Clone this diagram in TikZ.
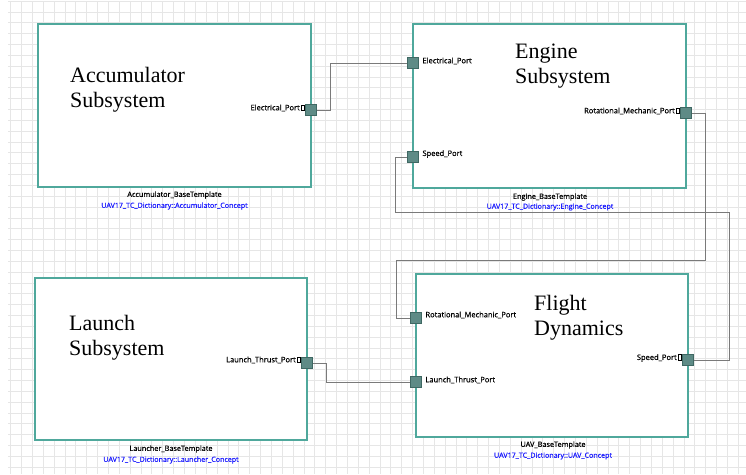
\documentclass[tikz,border=0pt]{standalone}
\usepackage{fontspec}
\setmainfont{Liberation Serif}
\newfontfamily\uifont{Open Sans}[FakeBold=0.6]
\usetikzlibrary{positioning}
\definecolor{boxline}{HTML}{4FA89C}
\definecolor{portfill}{HTML}{5E8B86}
\definecolor{portline}{HTML}{3F6863}
\definecolor{wirec}{HTML}{7A7A7A}
\definecolor{gridc}{HTML}{E6E6E6}
\definecolor{dictblue}{HTML}{1E1EFF}
\tikzset{
  block/.style={draw=boxline, line width=1.8pt, fill=white, inner sep=0pt},
  port/.style={draw=portline, fill=portfill, line width=0.6pt, minimum size=11pt, inner sep=0pt},
  wire/.style={draw=wirec, line width=0.9pt},
  title/.style={font=\fontsize{22}{25}\selectfont, align=left, inner sep=0pt, anchor=base west},
  plabel/.style={font=\uifont\fontsize{7.5}{8}\selectfont, inner sep=0.5pt, text=black},
  tmpl/.style={font=\uifont\fontsize{7.3}{8}\selectfont, inner sep=0pt, text=black},
  dict/.style={font=\uifont\fontsize{7.1}{8}\selectfont, inner sep=0pt, text=dictblue},
}
\newcommand{\gbox}{\,{\setlength{\fboxsep}{0pt}\setlength{\fboxrule}{0.5pt}\fbox{\rule{0pt}{5pt}\hspace{2.5pt}}}}
\begin{document}
\begin{tikzpicture}[x=1pt, y=-1pt]
\useasboundingbox (0,0) rectangle (746,474);
\fill[white] (0,0) rectangle (746,474);
% grid
\foreach \i in {0,...,68} {
  \draw[gridc, line width=0.6pt] ({10.6+10.86*\i},1) -- ({10.6+10.86*\i},474);
}
\foreach \j in {0,...,43} {
  \draw[gridc, line width=0.6pt] (8,{1+10.84*\j}) -- (746,{1+10.84*\j});
}

% blocks
\node[block, minimum width=273pt, minimum height=163pt] (acc) at (174.5,105.5) {};
\node[block, minimum width=273pt, minimum height=164pt] (eng) at (549.5,106) {};
\node[block, minimum width=272pt, minimum height=162pt] (lau) at (171,359) {};
\node[block, minimum width=272pt, minimum height=163pt] (fly) at (552,355.5) {};

% titles (base anchor = baseline of last line)
\node[title] (accT) at (70,107) {Accumulator\\Subsystem};
\node[title] (engT) at (515,83) {Engine\\Subsystem};
\node[title] (lauT) at (69,355) {Launch\\Subsystem};
\node[title] (flyT) at (534,335) {Flight\\Dynamics};

% template labels
\node[tmpl] (accB) at (174.5,195) {Accumulator\_BaseTemplate};
\node[dict] (accD) at (174.5,206) {UAV17\_TC\_Dictionary::Accumulator\_Concept};
\node[tmpl] (engB) at (550,197) {Engine\_BaseTemplate};
\node[dict] (engD) at (550,207) {UAV17\_TC\_Dictionary::Engine\_Concept};
\node[tmpl] (lauB) at (171,449) {Launcher\_BaseTemplate};
\node[dict] (lauD) at (171,460) {UAV17\_TC\_Dictionary::Launcher\_Concept};
\node[tmpl] (flyB) at (553,445) {UAV\_BaseTemplate};
\node[dict] (flyD) at (553,456) {UAV17\_TC\_Dictionary::UAV\_Concept};

% connector corner points
\coordinate (c2a) at (395,212);
\coordinate (c2b) at (729,212);
\coordinate (c3a) at (705,260);
\coordinate (c3b) at (396,260);

% ports
\node[port] (accE) at (311,110) {};
\node[port] (engE) at (413,63) {};
\node[port] (engS) at (413,157) {};
\node[port] (engR) at (686,113) {};
\node[port] (lauP) at (307,363) {};
\node[port] (flyR) at (416,318) {};
\node[port] (flyL) at (416,382) {};
\node[port] (flyS) at (688,360) {};

% connectors
\draw[wire] (accE.east) -- ++(13.5,0) |- (engE.west);
\draw[wire] (engS.west) -| (c2a) -- (c2b) |- (flyS.east);
\draw[wire] (engR.east) -| (c3a) -- (c3b) |- (flyR.west);
\draw[wire] (lauP.east) -- ++(13.5,0) |- (flyL.west);

% port labels
\node[plabel, anchor=east] (accEl) at ([yshift=2pt]accE.west) {Electrical\_Port\gbox};
\node[plabel, anchor=west] (engEl) at ([xshift=3pt,yshift=2pt]engE.east) {Electrical\_Port};
\node[plabel, anchor=west] (engSl) at ([xshift=3pt,yshift=3pt]engS.east) {Speed\_Port};
\node[plabel, anchor=east] (engRl) at ([yshift=2pt]engR.west) {Rotational\_Mechanic\_Port\gbox};
\node[plabel, anchor=east] (lauPl) at ([yshift=3pt]lauP.west) {Launch\_Thrust\_Port\gbox};
\node[plabel, anchor=west] (flyRl) at ([xshift=3pt,yshift=3pt]flyR.east) {Rotational\_Mechanic\_Port};
\node[plabel, anchor=west] (flyLl) at ([xshift=3pt,yshift=2pt]flyL.east) {Launch\_Thrust\_Port};
\node[plabel, anchor=east] (flySl) at ([yshift=2pt]flyS.west) {Speed\_Port\gbox};
\end{tikzpicture}
\end{document}
